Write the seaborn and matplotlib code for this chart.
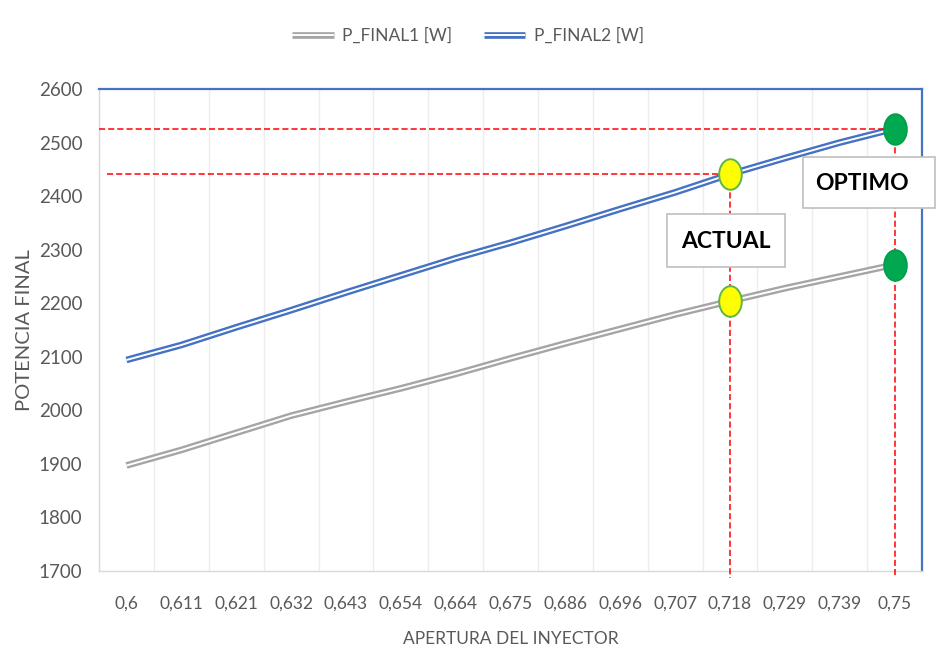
import numpy as np
import pandas as pd
import matplotlib
matplotlib.use("Agg")
import matplotlib.pyplot as plt
import matplotlib.patheffects as pe
from matplotlib.path import Path
from matplotlib.patches import Rectangle
import seaborn as sns

# Injector opening (categories) and final power of both configurations
apertura = ["0,6", "0,611", "0,621", "0,632", "0,643", "0,654", "0,664", "0,675",
            "0,686", "0,696", "0,707", "0,718", "0,729", "0,739", "0,75"]
p_final1 = [1897, 1926, 1958, 1990, 2016, 2041, 2068, 2097, 2125, 2152, 2179,
            2204, 2228, 2250, 2272]
p_final2 = [2094, 2122, 2155, 2187, 2220, 2252, 2284, 2313, 2344, 2376, 2407,
            2441, 2471, 2500, 2526]
series_names = ["P_FINAL1 [W]", "P_FINAL2 [W]"]
y_ticks = [1700, 1800, 1900, 2000, 2100, 2200, 2300, 2400, 2500, 2600]

# Highlighted operating points: current and optimum opening
actual_label, optimo_label = "ACTUAL", "OPTIMO"
actual_cat, optimo_cat = "0,718", "0,75"

sns.set_theme(style="white")
plt.rcParams["font.family"] = ["Lato", "DejaVu Sans"]

GRAY = "#A5A5A5"
BLUE = "#4472C4"
TXT = "#595959"
RED = "#FF0000"

pos = np.arange(len(apertura))
df = pd.DataFrame({
    "pos": np.concatenate([pos, pos]),
    "valor": p_final1 + p_final2,
    "serie": [series_names[0]] * len(pos) + [series_names[1]] * len(pos),
})

fig = plt.figure(figsize=(9.36, 6.56), dpi=100)
ax = fig.add_axes([0.1058, 0.1296, 0.8793, 0.7347])

# double (compound) line: coloured stroke with a thin white core
double = [pe.Normal(), pe.Stroke(linewidth=1.4, foreground="white")]
sns.lineplot(data=df, x="pos", y="valor", hue="serie",
             palette={series_names[0]: GRAY, series_names[1]: BLUE},
             linewidth=4.8, ax=ax, legend=False, zorder=3)
for ln in ax.get_lines():
    ln.set_path_effects(double)
    ln.set_solid_capstyle("butt")

ax.set_xlim(-0.5, len(apertura) - 0.5)
ax.set_ylim(y_ticks[0], y_ticks[-1])
ax.set_yticks(y_ticks)
ax.set_yticklabels([str(v) for v in y_ticks])
ax.set_xticks(pos)
ax.set_xticklabels(apertura)
ax.set_xticks(np.arange(len(apertura) + 1) - 0.5, minor=True)
ax.grid(False)
ax.grid(True, axis="x", which="minor", color="#EDEDED", linewidth=1.0)
ax.tick_params(axis="both", which="both", length=0)
ax.tick_params(axis="y", labelsize=13.5, labelcolor=TXT, pad=12)
ax.tick_params(axis="x", labelsize=12.5, labelcolor=TXT, pad=18)

for s in ("left", "bottom"):
    ax.spines[s].set_color("#D9D9D9")
    ax.spines[s].set_linewidth(1.0)
for s in ("top", "right"):
    ax.spines[s].set_color(BLUE)
    ax.spines[s].set_linewidth(1.6)

ax.set_xlabel("APERTURA DEL INYECTOR", fontsize=12.5, color=TXT, labelpad=14)
ax.set_ylabel("POTENCIA FINAL", fontsize=14.5, color=TXT, labelpad=4)

# reference lines to the highlighted points
ia = apertura.index(actual_cat)
io = apertura.index(optimo_cat)
dash = dict(color=RED, linewidth=1.1, linestyle=(0, (4, 2)), zorder=4)
ax.plot([-0.5, io], [p_final2[io], p_final2[io]], **dash)
ax.plot([-0.36, ia], [p_final2[ia], p_final2[ia]], **dash)
ax.plot([ia, ia], [p_final2[ia], 1686], clip_on=False, **dash)
ax.plot([io, io], [p_final2[io], 1686], clip_on=False, **dash)

# elliptical markers
t = np.linspace(0, 2 * np.pi, 60)
ellipse = Path(np.column_stack([0.74 * np.cos(t), np.sin(t)]), closed=True)
for i, face, edge in [(ia, "#FFFF00", "#5DB44A"), (io, "#00A94F", "#00A04A")]:
    ax.plot([i, i], [p_final1[i], p_final2[i]], linestyle="none",
            marker=ellipse, markersize=22, markerfacecolor=face,
            markeredgecolor=edge, markeredgewidth=1.4, zorder=5)

# label boxes
for (x0, y0, w, h), (tx, ty), lab in [
    ((0.7126, 0.593, 0.1261, 0.0808), (0.7756, 0.6326), actual_label),
    ((0.858, 0.6829, 0.1405, 0.0777), (0.921, 0.721), optimo_label),
]:
    fig.add_artist(Rectangle((x0, y0), w, h, transform=fig.transFigure,
                             facecolor="white", edgecolor="#BFBFBF",
                             linewidth=1.2, zorder=6))
    fig.text(tx, ty, lab, ha="center", va="center", fontsize=16.5,
             fontweight="bold", color="black", zorder=7)

# legend
handles = [plt.Line2D([], [], color=c, linewidth=4.8, path_effects=double,
                      solid_capstyle="butt") for c in (GRAY, BLUE)]
fig.legend(handles, series_names, loc="center", bbox_to_anchor=(0.5, 0.945),
           ncol=2, frameon=False, fontsize=12.5, labelcolor=TXT,
           handlelength=2.4, handletextpad=0.5, columnspacing=1.8)

fig.savefig("out.png", dpi=100)
